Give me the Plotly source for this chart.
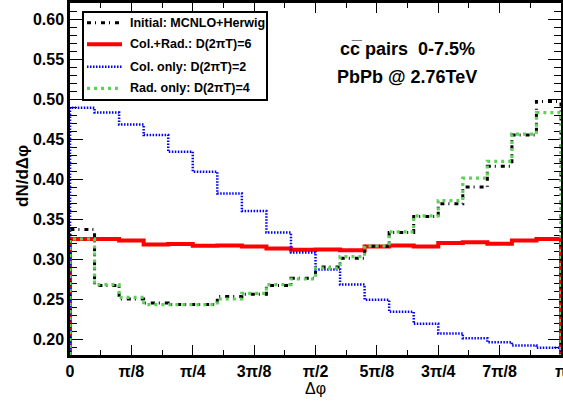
import numpy as np
import plotly.graph_objects as go

# ---- data (20 bins in delta-phi from 0 to pi) ----
n_bins = 20
initial_mcnlo = [0.338, 0.268, 0.251, 0.246, 0.244, 0.244, 0.254, 0.257, 0.268, 0.277,
                 0.291, 0.302, 0.317, 0.334, 0.354, 0.370, 0.391, 0.417, 0.456, 0.498]
col_rad = [0.326, 0.326, 0.324, 0.319, 0.3196, 0.3175, 0.318, 0.3166, 0.314, 0.3125,
           0.313, 0.312, 0.3167, 0.318, 0.3167, 0.321, 0.322, 0.320, 0.324, 0.326]
col_only = [0.490, 0.484, 0.469, 0.456, 0.435, 0.410, 0.383, 0.361, 0.334, 0.309,
            0.288, 0.269, 0.250, 0.235, 0.220, 0.208, 0.202, 0.197, 0.193, 0.190]
rad_only = [0.326, 0.269, 0.253, 0.244, 0.244, 0.244, 0.251, 0.258, 0.269, 0.276,
            0.2896, 0.304, 0.3175, 0.335, 0.355, 0.374, 0.402, 0.423, 0.457, 0.484]

x_tick_labels = ["0", "π/8", "π/4", "3π/8", "π/2", "5π/8", "3π/4", "7π/8", "π"]
legend_labels = ["Initial: MCNLO+Herwig", "Col.+Rad.: D(2πT)=6",
                 "Col. only: D(2πT)=2", "Rad. only: D(2πT)=4"]

Y_MIN, Y_MAX = 0.181, 0.621
edges = np.linspace(0, np.pi, n_bins + 1)

# plot-area geometry (pixels) used for overlay placement
L, R, T, B = 70, 561, 3, 355
def px(x):
    return (x - L) / (R - L)
def py(y):
    return (B - y) / (B - T)

styles = {
    "black": dict(color="black", width=3, dash="4px,4px,1px,5px"),
    "red": dict(color="#ff0000", width=4),
    "blue": dict(color="#0000ff", width=2.5, dash="1.5px,1.5px"),
    "green": dict(color="#5fcf5a", width=3.2, dash="3px,4px"),
}

def step_xy(vals):
    xs = [0.0, 0.0] + list(edges[1:-1]) + [np.pi, np.pi]
    ys = [Y_MIN, vals[0]] + list(vals[1:]) + [vals[-1], Y_MIN]
    return xs, ys

fig = go.Figure()
series = [(col_rad, "red", legend_labels[1]),
          (col_only, "blue", legend_labels[2]),
          (initial_mcnlo, "black", legend_labels[0]),
          (rad_only, "green", legend_labels[3])]
for vals, key, name in series:
    xs, ys = step_xy(vals)
    fig.add_trace(go.Scatter(x=xs, y=ys, mode="lines", line_shape="hv",
                             line=styles[key], name=name, showlegend=False,
                             hoverinfo="skip"))

tickfont = dict(family="Liberation Sans", size=16, color="black", weight="bold")

fig.update_xaxes(range=[0, np.pi * 1.00001], tickmode="array",
                 tickvals=[i * np.pi / 8 for i in range(9)], ticktext=x_tick_labels,
                 ticks="inside", ticklen=10, tickwidth=1, tickcolor="black",
                 minor=dict(tickmode="linear", tick0=0, dtick=np.pi / 16,
                            ticks="inside", ticklen=5, tickwidth=1, tickcolor="black"),
                 showline=True, linewidth=2.5, linecolor="black", mirror="ticks",
                 showgrid=False, zeroline=False, tickfont=tickfont,
                 ticklabeloverflow="allow",
                 layer="below traces", automargin=False)
fig.update_yaxes(range=[Y_MIN, Y_MAX], tickmode="linear", tick0=0, dtick=0.05,
                 tickformat=".2f",
                 ticks="inside", ticklen=13, tickwidth=1, tickcolor="black",
                 minor=dict(tickmode="linear", tick0=0, dtick=0.01,
                            ticks="inside", ticklen=7, tickwidth=1, tickcolor="black"),
                 showline=True, linewidth=2.5, linecolor="black", mirror="ticks",
                 showgrid=False, zeroline=False, tickfont=tickfont,
                 layer="below traces", automargin=False)

shapes = []
annotations = []

# legend box
shapes.append(dict(type="rect", xref="paper", yref="paper",
                   x0=px(83), x1=px(267), y0=py(100), y1=py(12),
                   line=dict(color="black", width=2), fillcolor="white"))
legend_rows = [22.7, 44.3, 66.7, 88.3]
legend_keys = ["black", "red", "blue", "green"]
for row_y, key, label in zip(legend_rows, legend_keys, legend_labels):
    st = dict(styles[key])
    shapes.append(dict(type="line", xref="paper", yref="paper",
                       x0=px(87), x1=px(122), y0=py(row_y), y1=py(row_y), line=st))
    annotations.append(dict(xref="paper", yref="paper", x=px(128), y=py(row_y),
                            xanchor="left", yanchor="middle", showarrow=False,
                            text=label,
                            font=dict(family="Liberation Sans", size=12.5,
                                      color="black", weight="bold")))

# text labels
annotations.append(dict(xref="paper", yref="paper", x=px(407), y=py(49),
                        xanchor="center", yanchor="middle", showarrow=False,
                        text="cc\u0305 pairs \u00a00-7.5%",
                        font=dict(family="Liberation Sans", size=18, color="black",
                                  weight="bold")))
annotations.append(dict(xref="paper", yref="paper", x=px(407), y=py(77),
                        xanchor="center", yanchor="middle", showarrow=False,
                        text="PbPb @ 2.76TeV",
                        font=dict(family="Liberation Sans", size=18, color="black",
                                  weight="bold")))
# axis titles
annotations.append(dict(xref="paper", yref="paper", x=px(22), y=py(176),
                        xanchor="center", yanchor="middle", showarrow=False,
                        textangle=-90, text="dN/dΔφ",
                        font=dict(family="Liberation Sans", size=17, color="black",
                                  weight="bold")))
annotations.append(dict(xref="paper", yref="paper", x=px(315), y=py(388),
                        xanchor="center", yanchor="middle", showarrow=False,
                        text="Δφ",
                        font=dict(family="Liberation Sans", size=16, color="black")))

fig.update_layout(width=563, height=403,
                  margin=dict(l=L, r=563 - R, t=T, b=403 - B, pad=0),
                  paper_bgcolor="white", plot_bgcolor="white",
                  shapes=shapes, annotations=annotations, showlegend=False)

fig.write_html("out.html", config={"displayModeBar": False},
               post_script="document.body.style.margin='0px';"
                           "document.body.style.overflow='hidden';")
